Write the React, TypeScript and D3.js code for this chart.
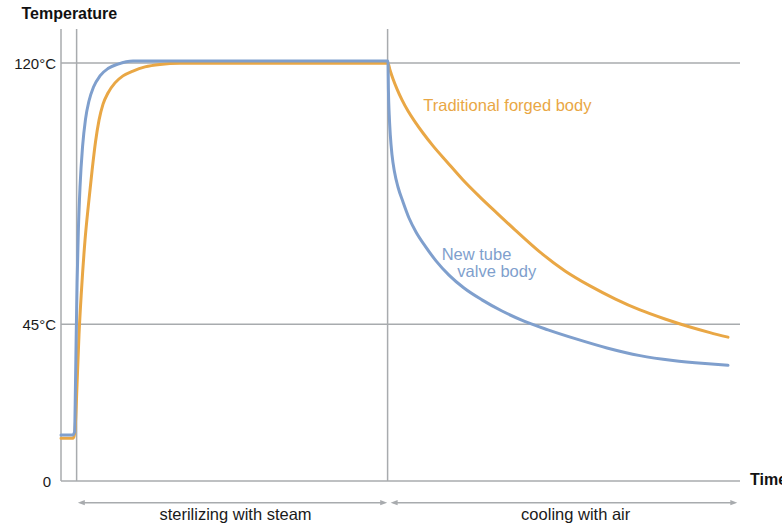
import React, { useEffect, useRef } from "react";
import * as d3 from "d3";

// time in arbitrary minutes (0..100), temperature in °C
const tubeTime = [
  0, 1.71, 2.0, 2.12, 2.24, 2.37, 2.55, 2.8, 3.17, 3.61, 4.12, 4.79, 5.74, 6.92, 8.4, 10.6,
  48.16, 48.22, 48.34, 48.5, 48.75, 49.12, 49.63, 50.37, 51.25, 52.28, 53.61, 55.23, 57.14,
  59.35, 62.0, 64.95, 68.19, 71.72, 75.85, 80.41, 85.27, 90.13, 94.85, 98.23,
];
const tubeTemp = [
  13.2, 13.2, 14.1, 26.1, 41.9, 57.1, 71.5, 84.4, 95.9, 103.9, 109.1, 113.1, 116.3, 118.4, 119.7, 120.6,
  120.6, 112.3, 105.1, 99.3, 93.6, 88.7, 84.4, 80.1, 75.5, 71.5, 67.5, 63.2, 59.1,
  55.4, 52.0, 48.8, 45.9, 43.4, 40.8, 38.2, 36.0, 34.6, 33.7, 33.2,
];

const forgedTime = [
  0, 1.8, 1.99, 2.15, 2.36, 2.65, 3.02, 3.54, 4.05, 4.57, 5.08, 5.6, 6.19, 6.92, 7.95, 9.13,
  10.6, 12.37, 14.58, 17.53,
  48.16, 48.45, 48.9, 49.49, 50.22, 51.11, 52.14, 53.31, 54.79, 56.85, 59.21, 61.71, 64.21,
  66.86, 70.55, 74.23, 77.91, 81.59, 85.27, 88.95, 92.64, 95.58, 98.23,
];
const forgedTemp = [
  12.3, 12.3, 13.5, 17.5, 27.6, 41.9, 54.8, 69.2, 79.5, 89.0, 97.3, 103.6, 108.2, 111.4, 114.3, 116.3,
  117.7, 118.9, 119.6, 119.9,
  119.9, 118.0, 115.4, 112.5, 109.4, 106.2, 103.1, 99.9, 96.2, 91.6, 86.4, 81.5, 76.9,
  72.1, 65.7, 60.3, 56.0, 52.3, 49.1, 46.5, 44.2, 42.6, 41.3,
];

const yTicks = [0, 45, 120];
const yTickLabels = ["0", "45°C", "120°C"];

const phaseBounds = [2.3, 48.1, 99.6];
const phaseLabels = ["sterilizing with steam", "cooling with air"];

const W = 782;
const H = 527;
const FONT = "'Liberation Sans', Arial, Helvetica, sans-serif";
const GRID = "#a8abae";
const BLUE = "#7f9fcd";
const ORANGE = "#e9a745";

export default function App() {
  const svgRef = useRef<SVGSVGElement>(null);

  useEffect(() => {
    const svg = d3.select(svgRef.current);
    svg.selectAll("*").remove();

    const x = d3.scaleLinear().domain([0, 100]).range([61, 740]);
    const y = d3.scaleLinear().domain([0, 120]).range([481, 63]);
    const top = 29;

    const g = svg.append("g");

    // vertical lines: axis + phase boundaries
    [0, phaseBounds[0], phaseBounds[1]].forEach((t) => {
      g.append("line")
        .attr("x1", x(t)).attr("x2", x(t))
        .attr("y1", top).attr("y2", y(0))
        .attr("stroke", GRID).attr("stroke-width", 1.5);
    });

    // horizontal gridlines + x axis
    yTicks.forEach((v, i) => {
      g.append("line")
        .attr("x1", x(0)).attr("x2", x(100))
        .attr("y1", y(v)).attr("y2", y(v))
        .attr("stroke", GRID).attr("stroke-width", 1.5);
      g.append("text")
        .attr("x", v === 0 ? 51 : 56)
        .attr("y", y(v) + 5.5)
        .attr("text-anchor", "end")
        .attr("font-family", FONT)
        .attr("font-size", 15)
        .attr("fill", "#1a1a1a")
        .text(yTickLabels[i]);
    });

    // curves
    const line = d3
      .line<[number, number]>()
      .x((d) => x(d[0]))
      .y((d) => y(d[1]))
      .curve(d3.curveMonotoneX);

    const series = [
      { t: forgedTime, v: forgedTemp, color: ORANGE },
      { t: tubeTime, v: tubeTemp, color: BLUE },
    ];
    series.forEach((s) => {
      const pts = s.t.map((t, i) => [t, s.v[i]] as [number, number]);
      g.append("path")
        .attr("d", line(pts))
        .attr("fill", "none")
        .attr("stroke", s.color)
        .attr("stroke-width", 3)
        .attr("stroke-linejoin", "round")
        .attr("stroke-linecap", "round");
    });

    // phase arrows
    const arrowY = 502.7;
    const head = (tipX: number, dir: number) =>
      `M${tipX},${arrowY}L${tipX + dir * 7},${arrowY - 2.6}L${tipX + dir * 7},${arrowY + 2.6}Z`;
    const arrows = [
      [x(phaseBounds[0]) + 1.2, x(phaseBounds[1]) - 0.4],
      [x(phaseBounds[1]) + 3, x(phaseBounds[2])],
    ];
    arrows.forEach(([a, b]) => {
      g.append("line")
        .attr("x1", a + 3).attr("x2", b - 3)
        .attr("y1", arrowY).attr("y2", arrowY)
        .attr("stroke", GRID).attr("stroke-width", 1.5);
      g.append("path").attr("d", head(a, 1)).attr("fill", GRID);
      g.append("path").attr("d", head(b, -1)).attr("fill", GRID);
    });

    const labelX = [x(25.7), x(75.8)];
    phaseLabels.forEach((lab, i) => {
      g.append("text")
        .attr("x", labelX[i])
        .attr("y", 520)
        .attr("text-anchor", "middle")
        .attr("font-family", FONT)
        .attr("font-size", 16.5)
        .attr("fill", "#1a1a1a")
        .text(lab);
    });

    // axis titles (Time runs off the right edge, as in the original)
    g.append("text")
      .attr("x", 21.5).attr("y", 18.5)
      .attr("font-family", FONT).attr("font-size", 16).attr("font-weight", "bold")
      .attr("fill", "#111")
      .text("Temperature");
    g.append("text")
      .attr("x", 750).attr("y", 484.5)
      .attr("font-family", FONT).attr("font-size", 16).attr("font-weight", "bold")
      .attr("fill", "#111")
      .text("Time");

    // curve annotations
    g.append("text")
      .attr("x", 423.3).attr("y", 110.5)
      .attr("font-family", FONT).attr("font-size", 16.5)
      .attr("fill", ORANGE)
      .text("Traditional forged body");
    g.append("text")
      .attr("x", 441.7).attr("y", 260)
      .attr("font-family", FONT).attr("font-size", 16.5)
      .attr("fill", BLUE)
      .text("New tube");
    g.append("text")
      .attr("x", 457.3).attr("y", 276.5)
      .attr("font-family", FONT).attr("font-size", 16.5)
      .attr("fill", BLUE)
      .text("valve body");
  }, []);

  return (
    <svg
      ref={svgRef}
      width={W}
      height={H}
      style={{ position: "absolute", left: 0, top: 0, display: "block", background: "#fff" }}
    />
  );
}
